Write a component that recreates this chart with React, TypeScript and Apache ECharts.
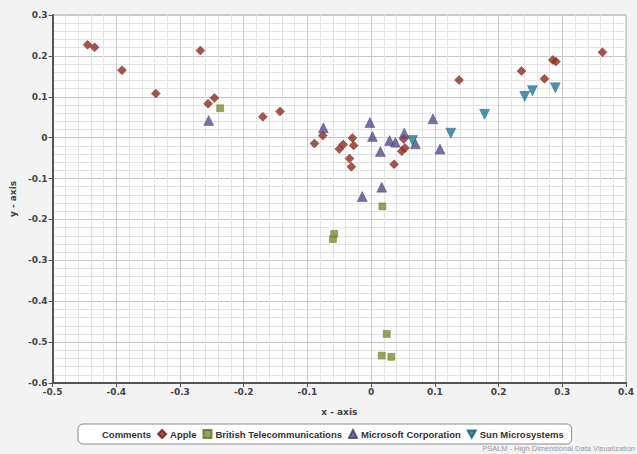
import React, { useEffect, useRef } from "react";
import * as echarts from "echarts";

const seriesNames = ["Comments", "Apple", "British Telecommunications", "Microsoft Corporation", "Sun Microsystems"];

const comments: number[][] = [];
const apple: number[][] = [
  [-0.445, 0.227], [-0.434, 0.221], [-0.391, 0.165], [-0.338, 0.108], [-0.268, 0.213],
  [-0.256, 0.083], [-0.246, 0.097], [-0.17, 0.051], [-0.143, 0.064], [-0.089, -0.014],
  [-0.076, 0.005], [-0.05, -0.028], [-0.044, -0.017], [-0.0295, -0.001], [-0.0275, -0.019],
  [-0.034, -0.051], [-0.031, -0.071], [0.036, -0.065], [0.051, -0.003], [0.048, -0.033],
  [0.053, -0.025], [0.138, 0.141], [0.236, 0.163], [0.285, 0.19], [0.29, 0.186],
  [0.272, 0.144], [0.363, 0.209],
];
const britishTelecom: number[][] = [
  [-0.237, 0.072], [0.0176, -0.168], [-0.06, -0.248], [-0.058, -0.235],
  [0.0244, -0.48], [0.0166, -0.533], [0.0316, -0.536],
];
const microsoft: number[][] = [
  [-0.255, 0.042], [-0.075, 0.024], [-0.002, 0.037], [0.002, 0.003], [0.029, -0.007],
  [0.038, -0.011], [0.052, 0.011], [0.0695, -0.015], [0.0145, -0.034], [0.097, 0.046],
  [0.108, -0.028], [0.0166, -0.121], [-0.014, -0.144],
];
const sun: number[][] = [
  [0.065, -0.007], [0.125, 0.011], [0.178, 0.057], [0.241, 0.101], [0.253, 0.115], [0.289, 0.122],
];

const seriesData = [comments, apple, britishTelecom, microsoft, sun];
const colors = ["#ffffff", "#8e2a1c", "#7d8c30", "#5a4a8c", "#1f7896"];
const borders = ["#ffffff", "#6e1c12", "#5e6c20", "#43366e", "#155a72"];
const invTri = "path://M0,0 L10,0 L5,9 Z";
const symbols = ["circle", "diamond", "rect", "triangle", invTri];
const sizes = [6, 9, 7, 10, 10];

const fmt = (v: number) => {
  const r = Math.round(v * 10) / 10;
  return r === 0 ? "0" : r.toString();
};

export default function App() {
  const ref = useRef<HTMLDivElement>(null);
  useEffect(() => {
    if (!ref.current) return;
    const chart = echarts.init(ref.current, null, { renderer: "svg" });
    const labelFont = { fontFamily: "DejaVu Sans", fontSize: 9, color: "#444", fontWeight: "bold" as const };
    chart.setOption({
      animation: false,
      backgroundColor: "#f3f3f3",
      grid: {
        left: 48, right: 10, top: 15, bottom: 71,
        show: true, backgroundColor: "#ffffff", borderColor: "#a8a8a8", borderWidth: 1,
      },
      xAxis: {
        type: "value", min: -0.5, max: 0.4, interval: 0.1,
        name: "x - axis", nameLocation: "middle", nameGap: 24,
        nameTextStyle: { ...labelFont },
        axisLine: { onZero: false, lineStyle: { color: "#555", width: 2 } },
        axisTick: { show: true, length: 4, lineStyle: { color: "#555" } },
        axisLabel: { ...labelFont, margin: 4, formatter: fmt },
        splitLine: { lineStyle: { color: "#c8c8c8", width: 1 } },
        minorSplitLine: { show: true, lineStyle: { color: "#e4e4e4", width: 1 } },
        minorTick: { show: false, splitNumber: 5 },
      },
      yAxis: {
        type: "value", min: -0.6, max: 0.3, interval: 0.1,
        name: "y - axis", nameLocation: "middle", nameGap: 31, nameRotate: 90,
        nameTextStyle: { ...labelFont },
        axisLine: { onZero: false, lineStyle: { color: "#555", width: 2 } },
        axisTick: { show: true, length: 4, lineStyle: { color: "#555" } },
        axisLabel: { ...labelFont, margin: 5, formatter: fmt },
        splitLine: { lineStyle: { color: "#c8c8c8", width: 1 } },
        minorSplitLine: { show: true, lineStyle: { color: "#e4e4e4", width: 1 } },
        minorTick: { show: false, splitNumber: 5 },
      },
      legend: {
        left: 78, top: 424, orient: "horizontal",
        backgroundColor: "#ffffff", borderColor: "#8a8a8a", borderWidth: 1, borderRadius: 5,
        padding: [5, 8, 5, 12], itemGap: 6, itemWidth: 8, itemHeight: 8,
        textStyle: { fontFamily: "Liberation Sans", fontSize: 9.5, fontWeight: "bold", color: "#333", padding: [0, 0, 0, -1] },
        data: seriesNames.map((n, i) => ({ name: n, icon: symbols[i] })),
      },
      graphic: [
        {
          type: "text", right: 2, top: 444,
          style: { text: "PSALM - High Dimensional Data Visualization", fontFamily: "Liberation Sans", fontSize: 7.5, fill: "#999" },
        },
      ],
      series: seriesNames.map((n, i) => ({
        name: n, type: "scatter", data: seriesData[i],
        symbol: symbols[i], symbolSize: sizes[i],
        itemStyle: { color: colors[i], borderColor: borders[i], borderWidth: i === 0 ? 0 : 0.5 },
      })),
    });
    return () => chart.dispose();
  }, []);
  return <div ref={ref} style={{ width: 637, height: 454, position: "absolute", left: 0, top: 0 }} />;
}
